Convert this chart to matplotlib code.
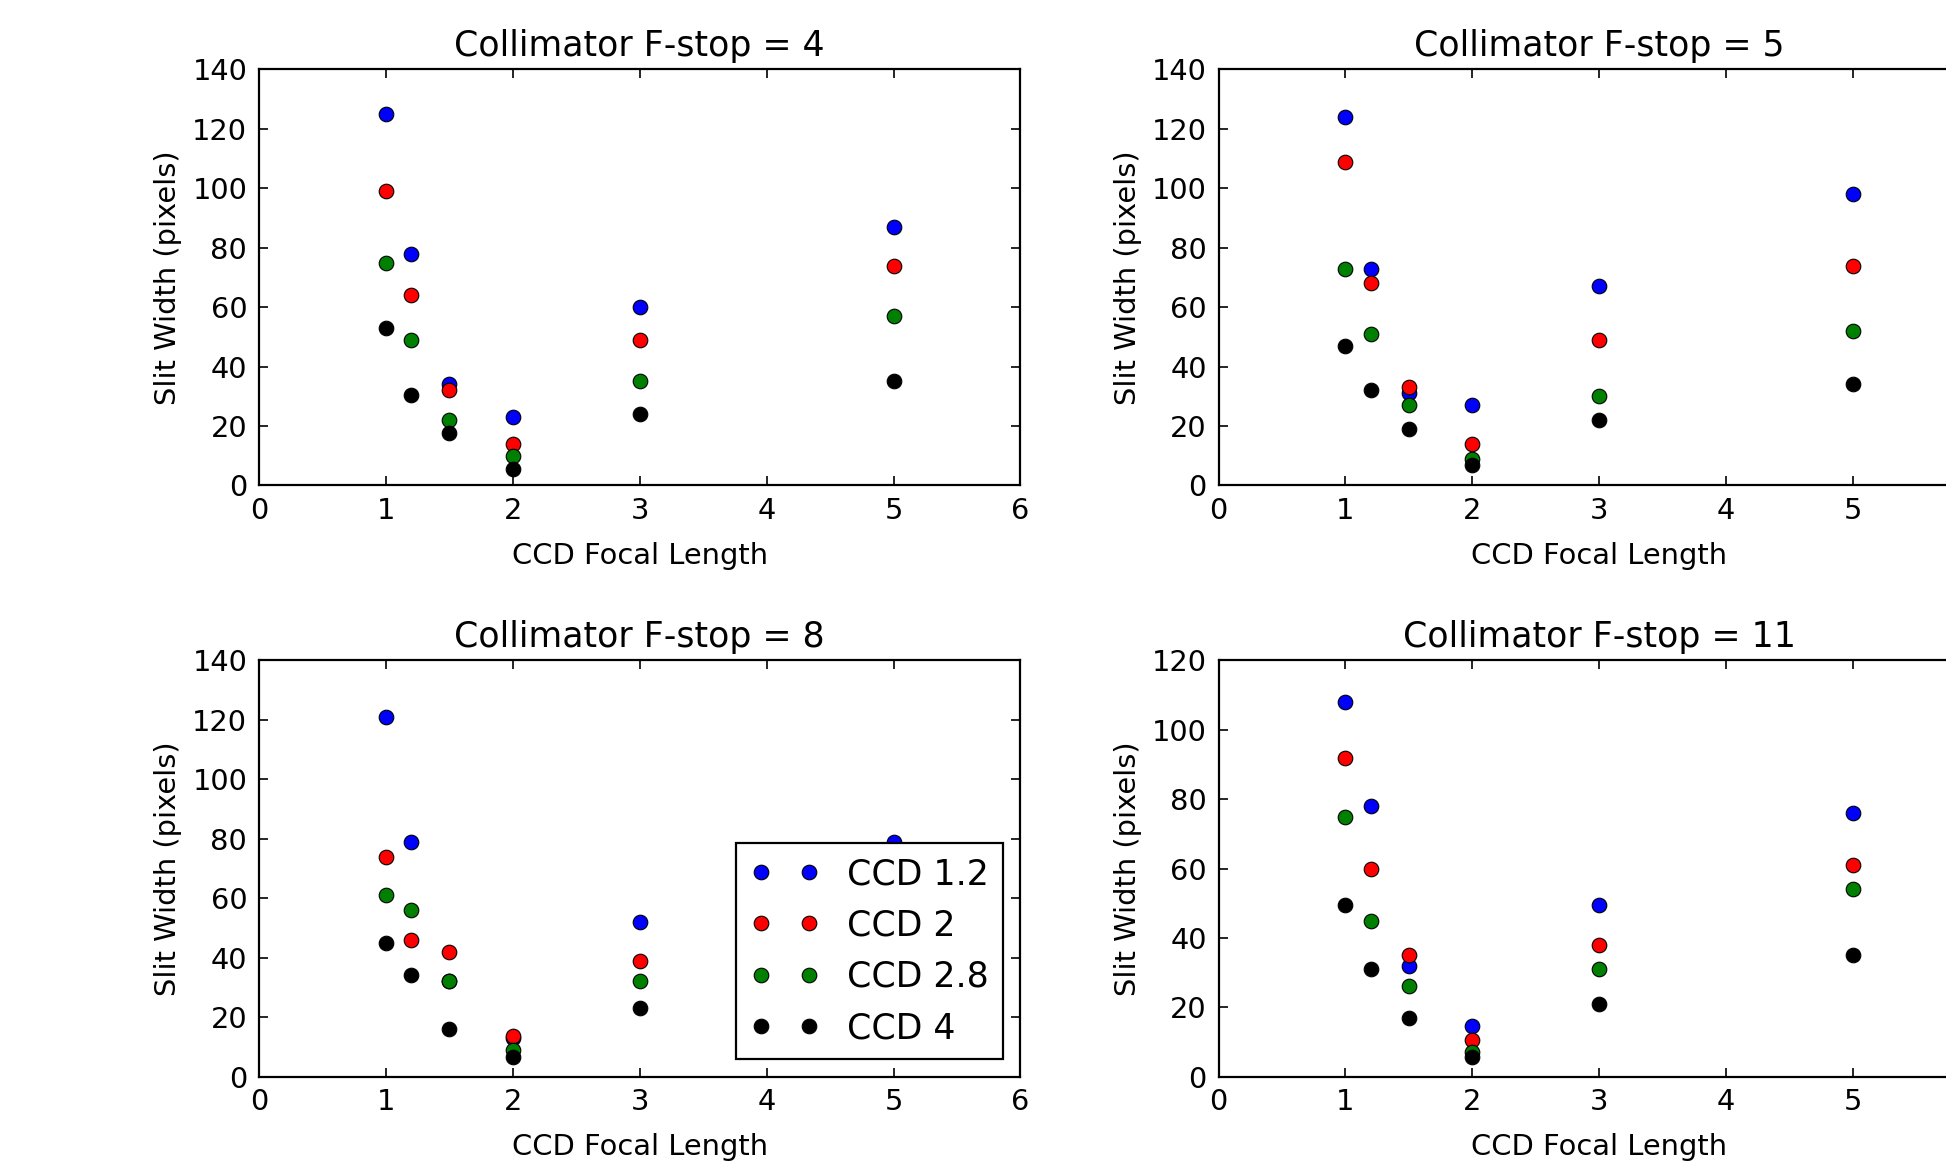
#!/usr/bin/env python3
"""Slit width vs CCD focal length for four collimator F-stops."""

from __future__ import annotations

import matplotlib

matplotlib.use("Agg")
import matplotlib.pyplot as plt


FOCAL_LENGTHS = [1.0, 1.2, 1.5, 2.0, 3.0, 5.0]
CCD_LABELS = ["CCD 1.2", "CCD 2", "CCD 2.8", "CCD 4"]
CCD_COLORS = ["b", "r", "g", "k"]
X_TICKS = [0, 1, 2, 3, 4, 5, 6]

# slit width (pixels), one list per CCD f-stop, for each collimator f-stop
FSTOP_4 = [
    [125, 78, 34, 23, 60, 87],
    [99, 64, 32, 14, 49, 74],
    [75, 49, 22, 10, 35, 57],
    [53, 30.5, 17.5, 5.5, 24, 35],
]
FSTOP_5 = [
    [124, 73, 31, 27, 67, 98],
    [109, 68, 33, 14, 49, 74],
    [73, 51, 27, 9, 30, 52],
    [47, 32, 19, 7, 22, 34],
]
FSTOP_8 = [
    [121, 79, 32, 13, 52, 79],
    [74, 46, 42, 13.5, 39, 62],
    [61, 56, 32, 9, 32, 48],
    [45, 34, 16, 6.5, 23, 30],
]
FSTOP_11 = [
    [108, 78, 32, 14.5, 49.5, 76],
    [92, 60, 35, 10.5, 38, 61],
    [75, 45, 26, 7, 31, 54],
    [49.5, 31, 17, 5.5, 21, 35],
]

PANEL_TITLES = [
    "Collimator F-stop = 4",
    "Collimator F-stop = 5",
    "Collimator F-stop = 8",
    "Collimator F-stop = 11",
]
PANEL_DATA = [FSTOP_4, FSTOP_5, FSTOP_8, FSTOP_11]
PANEL_YMAX = [140, 140, 140, 120]

# axes rectangles in figure fractions (right column runs off the canvas)
LEFT_COL, RIGHT_COL, WIDTH = 0.1331, 0.6262, 0.3913
TOP_ROW, BOTTOM_ROW, HEIGHT = 0.5847, 0.0791, 0.3559
AXES_RECTS = [
    [LEFT_COL, TOP_ROW, WIDTH, HEIGHT],
    [RIGHT_COL, TOP_ROW, WIDTH, HEIGHT],
    [LEFT_COL, BOTTOM_ROW, WIDTH, HEIGHT],
    [RIGHT_COL, BOTTOM_ROW, WIDTH, HEIGHT],
]

BASE_SIZE = 20.8


def draw_panel(ax, title: str, series: list[list[float]], ymax: int,
               legend: bool, clipped: bool) -> None:
    for values, color, label in zip(series, CCD_COLORS, CCD_LABELS):
        ax.plot(
            FOCAL_LENGTHS,
            values,
            linestyle="none",
            marker="o",
            markersize=10.5,
            markerfacecolor=color,
            markeredgecolor="k",
            markeredgewidth=0.8,
            label=label,
        )
    ax.set_xlim(0, 6)
    ax.set_ylim(0, ymax)
    # the last x label falls off the canvas on the right-hand panels
    labels = [str(t) for t in X_TICKS]
    if clipped:
        labels[-1] = ""
    ax.set_xticks(X_TICKS, labels=labels)
    ax.set_yticks(range(0, ymax + 1, 20))
    ax.tick_params(
        direction="in", top=True, right=True, length=6.5, width=1.2,
        pad=8.5, labelsize=BASE_SIZE,
    )
    for spine in ax.spines.values():
        spine.set_linewidth(1.6)
    ax.set_title(title, fontsize=25, pad=10)
    ax.set_xlabel("CCD Focal Length", fontsize=BASE_SIZE, labelpad=12)
    ax.set_ylabel("Slit Width (pixels)", fontsize=BASE_SIZE, labelpad=7)
    if legend:
        leg = ax.legend(
            loc="lower right", numpoints=2, fontsize=25, handlelength=2.0,
            fancybox=False, framealpha=1.0, borderaxespad=0.5,
        )
        leg.get_frame().set_edgecolor("k")
        leg.get_frame().set_linewidth(1.6)


def main() -> None:
    fig = plt.figure(figsize=(19.46, 11.69), dpi=100)
    fig.patch.set_facecolor("white")
    for i, rect in enumerate(AXES_RECTS):
        ax = fig.add_axes(rect)
        draw_panel(ax, PANEL_TITLES[i], PANEL_DATA[i], PANEL_YMAX[i],
                   legend=(i == 2), clipped=(i % 2 == 1))
    fig.savefig("out.png", dpi=100, facecolor="white")
    plt.close(fig)


if __name__ == "__main__":
    main()
